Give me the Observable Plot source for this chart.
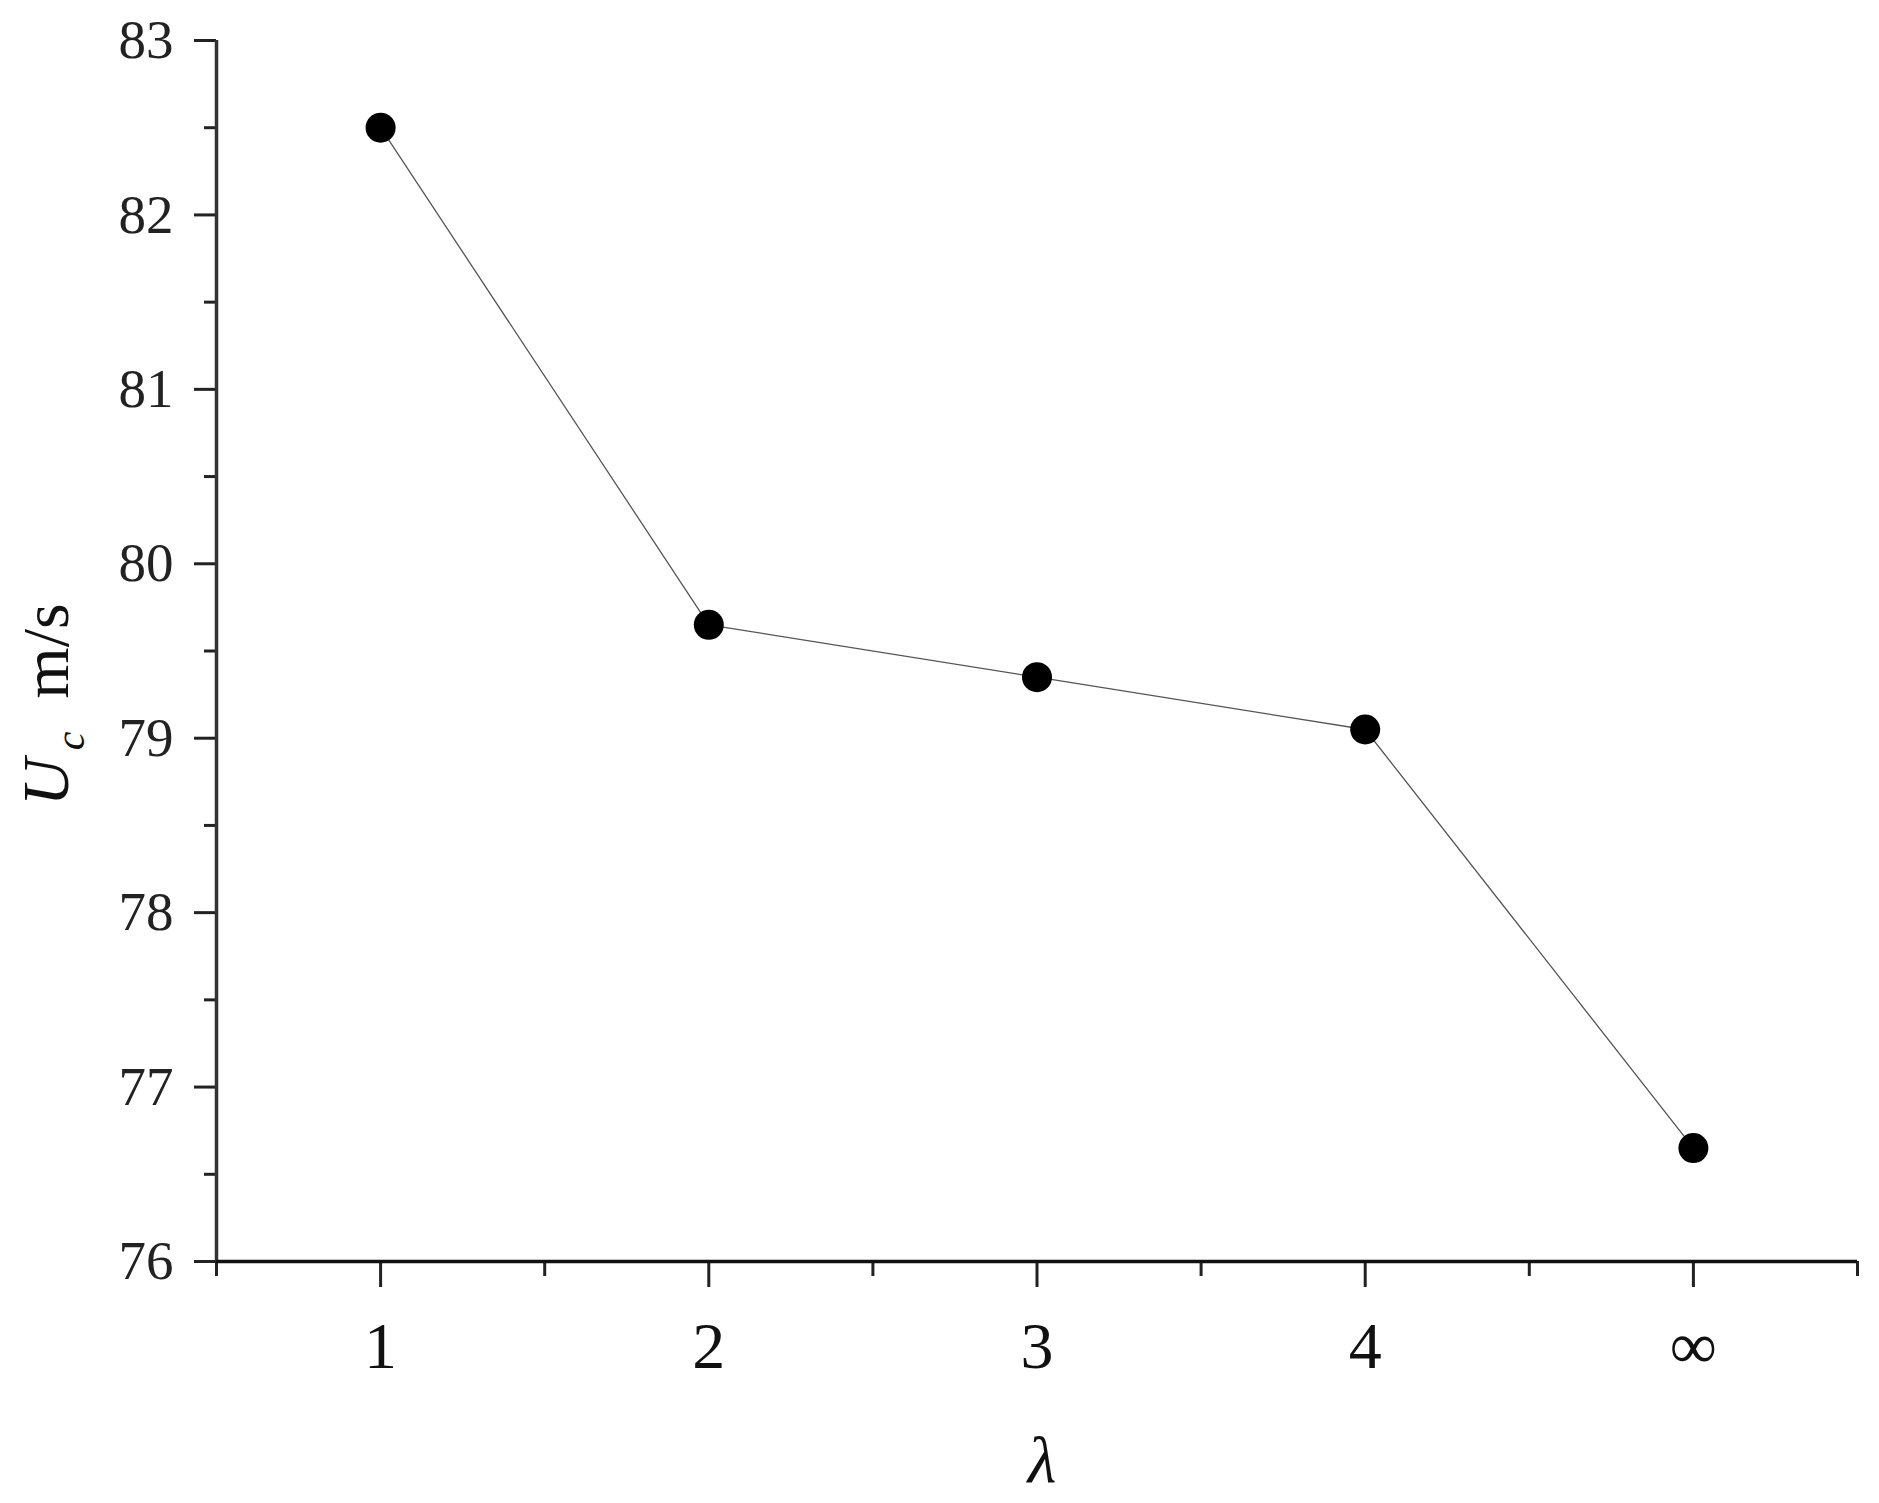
<!DOCTYPE html>
<html><head><meta charset="utf-8">
<script src="https://cdn.jsdelivr.net/npm/d3@7"></script>
<script src="https://cdn.jsdelivr.net/npm/@observablehq/plot@0.6"></script>
<style>body{margin:0;background:#fff}</style>
</head><body><div id="chart"></div>
<script>
const categories = ["1", "2", "3", "4", "∞"];
const ucValues = [82.5, 79.65, 79.35, 79.05, 76.65];
const yMajorTicks = [76, 77, 78, 79, 80, 81, 82, 83];
const yMinorTicks = [76.5, 77.5, 78.5, 79.5, 80.5, 81.5, 82.5];
const xMajorTicks = [1, 2, 3, 4, 5];
const xMinorTicks = [0.5, 1.5, 2.5, 3.5, 4.5, 5.5];
const yLabelParts = ["U", "c", "  m/s"];
const xLabel = "λ";

const data = categories.map((c, i) => ({pos: i + 1, label: c, uc: ucValues[i]}));
const serif = "'Liberation Serif', 'Times New Roman', serif";

const chart = Plot.plot({
  width: 1879, height: 1503,
  marginLeft: 216, marginRight: 22, marginTop: 40, marginBottom: 242,
  style: {fontFamily: serif, background: "#fff", color: "#000", overflow: "visible"},
  x: {domain: [xMinorTicks[0], xMinorTicks[xMinorTicks.length - 1]]},
  y: {domain: [yMajorTicks[0], yMajorTicks[yMajorTicks.length - 1]]},
  marks: [
    Plot.axisY({ticks: yMinorTicks, tickSize: 12, tickFormat: () => "", label: null, stroke: "#222", strokeWidth: 3}),
    Plot.axisY({ticks: yMajorTicks, tickSize: 22, tickPadding: 21, fontSize: 55, tickFormat: d => String(d), label: null, stroke: "#222", strokeWidth: 3, fill: "#222"}),
    Plot.axisX({ticks: xMinorTicks, tickSize: 15, tickFormat: () => "", label: null, stroke: "#222", strokeWidth: 3}),
    Plot.axisX({ticks: xMajorTicks, tickSize: 26, tickPadding: 34, fontSize: 66, tickFormat: d => categories[d - 1], label: null, stroke: "#222", strokeWidth: 3, fill: "#111"}),
    Plot.ruleX([xMinorTicks[0]], {stroke: "#333", strokeWidth: 3.5}),
    Plot.ruleY([yMajorTicks[0]], {stroke: "#111", strokeWidth: 3.5}),
    Plot.line(data, {x: "pos", y: "uc", stroke: "#555", strokeWidth: 1.3}),
    Plot.dot(data, {x: "pos", y: "uc", r: 15, fill: "#000", stroke: "none"})
  ]
});
document.getElementById("chart").appendChild(chart);

const svg = d3.select(chart);
const yl = svg.append("text")
  .attr("transform", "translate(68,806) rotate(-90)")
  .attr("text-anchor", "start")
  .attr("font-family", serif)
  .attr("font-size", 66)
  .attr("fill", "#111")
  .style("white-space", "pre");
yl.append("tspan").attr("font-style", "italic").text(yLabelParts[0]);
yl.append("tspan").attr("font-style", "italic").attr("font-size", 42).attr("dy", 16).attr("dx", 8).text(yLabelParts[1]);
yl.append("tspan").attr("dy", -16).text(yLabelParts[2]);

svg.append("text")
  .attr("x", 1042).attr("y", 1482)
  .attr("text-anchor", "middle")
  .attr("font-family", serif)
  .attr("font-style", "italic")
  .attr("font-size", 66)
  .attr("fill", "#111")
  .text(xLabel);
</script>
</body></html>
